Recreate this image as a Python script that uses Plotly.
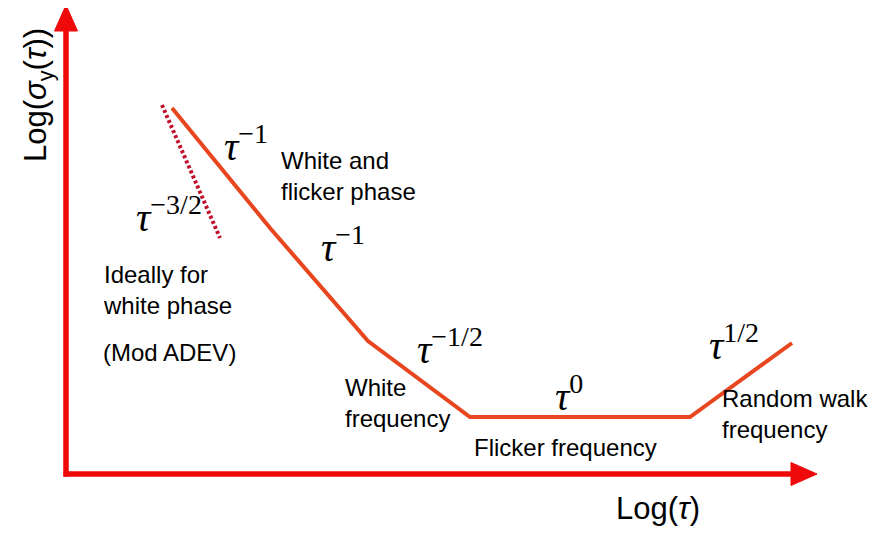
import plotly.graph_objects as go

# Piecewise Allan deviation slopes (log-log, arbitrary units)
log_tau = [2.12, 4.08, 6.04, 8.08, 12.48, 14.52]
log_sigma = [7.32, 4.92, 2.66, 1.14, 1.14, 2.62]

# Ideal white-phase (Mod ADEV) tau^-3/2 dotted line
ideal_tau = [1.92, 3.08]
ideal_sigma = [7.38, 4.72]

# Axis extents
x_axis_end = 15.02
y_axis_end = 9.38

S = 50.0          # pixels per unit
OX, OY = 66, 474  # origin pixel (page coords)
PAGE_W, PAGE_H = 879, 534
OFF = 8           # page body margin

def ux(px):
    return (px - OX) / S

def uy(py):
    return (OY - py) / S

AX_COLOR = "#ee0a0a"
LINE_COLOR = "#e8461e"
DOT_COLOR = "#c0102a"

fig = go.Figure()

ah = 26 / S
aw = 11.5 / S
fig.add_trace(go.Scatter(x=[0, 0], y=[-0.05, y_axis_end - ah + 0.05], mode="lines",
                         line=dict(color=AX_COLOR, width=5.5), hoverinfo="skip"))
fig.add_trace(go.Scatter(x=[-0.05, x_axis_end - ah + 0.05], y=[0, 0], mode="lines",
                         line=dict(color=AX_COLOR, width=5.5), hoverinfo="skip"))
fig.add_trace(go.Scatter(x=[-aw, aw, 0, -aw], y=[y_axis_end - ah, y_axis_end - ah, y_axis_end, y_axis_end - ah],
                         mode="lines", fill="toself", fillcolor=AX_COLOR,
                         line=dict(color=AX_COLOR, width=1), hoverinfo="skip"))
fig.add_trace(go.Scatter(x=[x_axis_end - ah, x_axis_end - ah, x_axis_end, x_axis_end - ah], y=[-aw, aw, 0, -aw],
                         mode="lines", fill="toself", fillcolor=AX_COLOR,
                         line=dict(color=AX_COLOR, width=1), hoverinfo="skip"))

fig.add_trace(go.Scatter(x=log_tau, y=log_sigma, mode="lines",
                         line=dict(color=LINE_COLOR, width=4), hoverinfo="skip"))
fig.add_trace(go.Scatter(x=ideal_tau, y=ideal_sigma, mode="lines",
                         line=dict(color=DOT_COLOR, width=4, dash="3px,2.5px"), hoverinfo="skip"))

SERIF = "Liberation Serif"
SANS = "Liberation Sans"

def tau_label(px, py, exp):
    fig.add_annotation(x=ux(px), y=uy(py), xref="x", yref="y",
                       text=f"<i>τ</i><sup>{exp}</sup>", showarrow=False,
                       xanchor="left", yanchor="middle",
                       font=dict(family=SERIF, size=40, color="black"))

tau_label(222, 143, "−1")
tau_label(134, 214, "−3/2")
tau_label(319, 244, "−1")
tau_label(415, 346, "−1/2")
tau_label(553, 393, "0")
tau_label(707, 342, "1/2")

def text_label(px, py, txt):
    fig.add_annotation(x=ux(px), y=uy(py), xref="x", yref="y",
                       text=txt, showarrow=False, align="left",
                       xanchor="left", yanchor="middle",
                       font=dict(family=SANS, size=24, color="black"))

text_label(279, 176, "White and<br>flicker phase")
text_label(101, 290, "Ideally for<br>white phase")
text_label(101, 352, "(Mod ADEV)")
text_label(343, 403, "White<br>frequency")
text_label(472, 447, "Flicker frequency")
text_label(720, 414, "Random walk<br>frequency")

fig.add_annotation(x=ux(38), y=uy(95), xref="x", yref="y",
                   text="Log(<i>σ</i><sub>y</sub>(<i>τ</i>))", showarrow=False,
                   textangle=-90, xanchor="center", yanchor="middle",
                   font=dict(family=SANS, size=31, color="black"))
fig.add_annotation(x=ux(658), y=uy(508), xref="x", yref="y",
                   text="Log(<i>τ</i>)", showarrow=False,
                   xanchor="center", yanchor="middle",
                   font=dict(family=SANS, size=31, color="black"))

fig.update_layout(
    width=PAGE_W - OFF, height=PAGE_H - OFF,
    margin=dict(l=0, r=0, t=0, b=0),
    paper_bgcolor="white", plot_bgcolor="white",
    showlegend=False,
    xaxis=dict(range=[ux(OFF), ux(PAGE_W)], visible=False, fixedrange=True),
    yaxis=dict(range=[uy(PAGE_H), uy(OFF)], visible=False, fixedrange=True),
)

fig.write_html("out.html")
